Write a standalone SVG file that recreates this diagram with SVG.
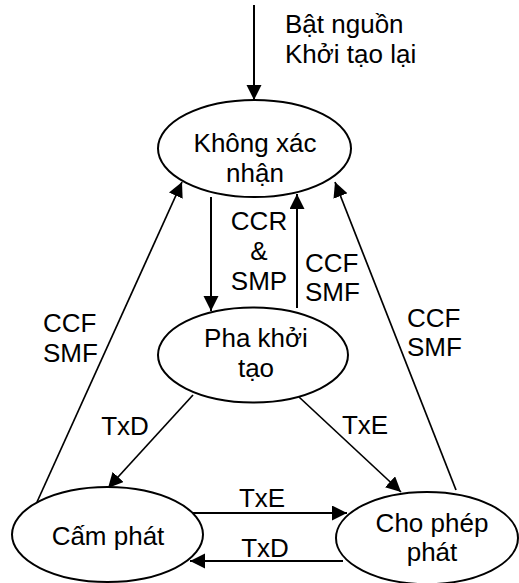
<svg xmlns="http://www.w3.org/2000/svg" width="519" height="583" viewBox="0 0 519 583">
<defs>
<marker id="ah" markerUnits="userSpaceOnUse" markerWidth="16" markerHeight="16" refX="15" refY="7.5" orient="auto">
<path d="M0,0 L15,7.5 L0,15 z" fill="#000"/>
</marker>
<style>
text{font-family:"Liberation Sans",Arial,sans-serif;font-size:26px;fill:#000}
.c{text-anchor:middle}
ellipse{fill:#fff;stroke:#000;stroke-width:2}
.e line{stroke:#000;stroke-width:2;marker-end:url(#ah)}
.e line.t{stroke-width:1.7}
</style>
</defs>
<rect width="519" height="583" fill="#fff"/>
<g id="connectors" class="e">
<line x1="254" y1="5" x2="254" y2="100"/>
<line x1="211" y1="197" x2="211" y2="311"/>
<line x1="297" y1="308" x2="297" y2="194"/>
<line class="t" x1="37" y1="502" x2="182" y2="182"/>
<line class="t" x1="456" y1="490" x2="335" y2="182"/>
<line class="t" x1="193" y1="395" x2="108" y2="488"/>
<line class="t" x1="299" y1="397" x2="401" y2="492"/>
<line x1="192" y1="513" x2="347" y2="513"/>
<line x1="343" y1="561" x2="190" y2="561"/>
</g>
<g id="labels">
<text x="285" y="33">Bật nguồn</text>
<text x="285" y="63">Khởi tạo lại</text>
<text class="c" x="259" y="230">CCR</text>
<text class="c" x="259" y="260">&amp;</text>
<text class="c" x="259" y="290">SMP</text>
<text x="305" y="272">CCF</text>
<text x="305" y="301">SMF</text>
<text x="43" y="332">CCF</text>
<text x="43" y="362">SMF</text>
<text x="407" y="327">CCF</text>
<text x="407" y="356">SMF</text>
<text class="c" x="125" y="435">TxD</text>
<text class="c" x="365" y="434">TxE</text>
<text class="c" x="262" y="507">TxE</text>
<text class="c" x="265" y="557">TxD</text>
</g>
<g id="khong-xac-nhan">
<ellipse cx="254.5" cy="148.5" rx="96.5" ry="48.5"/>
<text class="c" x="255" y="152">Không xác</text>
<text class="c" x="255" y="182">nhận</text>
</g>
<g id="pha-khoi-tao">
<ellipse cx="253" cy="355" rx="95" ry="47.5"/>
<text class="c" x="256" y="347">Pha khởi</text>
<text class="c" x="256" y="377">tạo</text>
</g>
<g id="cam-phat">
<ellipse cx="107.5" cy="534.5" rx="95.5" ry="47.5"/>
<text class="c" x="108" y="545">Cấm phát</text>
</g>
<g id="cho-phep-phat">
<ellipse cx="427" cy="538" rx="91" ry="46"/>
<text class="c" x="432" y="532">Cho phép</text>
<text class="c" x="432" y="561">phát</text>
</g>
</svg>
